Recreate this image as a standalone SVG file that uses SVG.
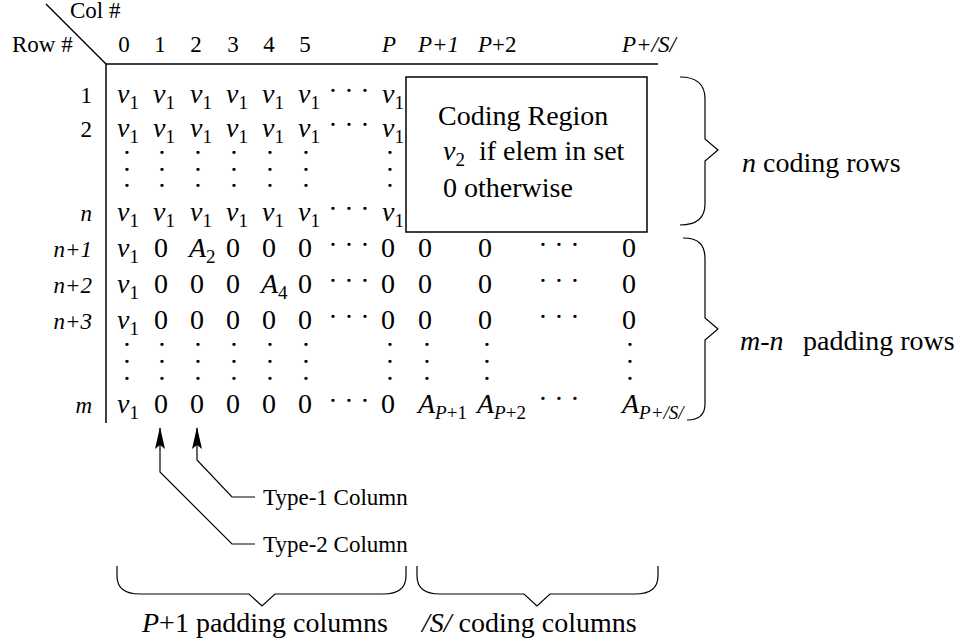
<svg xmlns="http://www.w3.org/2000/svg" width="961" height="642" viewBox="0 0 961 642">
<style>
text{font-family:"Liberation Serif","Times New Roman",serif;fill:#000}
.m{font-size:28px}
.s{font-size:23px}
.i{font-style:italic}
.sub{font-size:19px}
.c{text-anchor:middle}
.ln{stroke:#000;stroke-width:1.5;fill:none}
.br{stroke:#000;stroke-width:1.2;fill:none}
</style>
<defs>
<marker id="arr" viewBox="0 0 22 10" refX="21" refY="5" markerWidth="22" markerHeight="10" markerUnits="userSpaceOnUse" orient="auto">
<path d="M0,0 L22,5 L0,10 L4,5 z" fill="#000"/>
</marker>
</defs>
<rect width="961" height="642" fill="#fff"/>

<g id="axes">
<line class="ln" x1="46" y1="4" x2="106" y2="64"/>
<line class="ln" x1="106" y1="64" x2="658" y2="64"/>
<line class="ln" x1="106" y1="64" x2="106" y2="423"/>
<text class="s" x="70" y="18">Col #</text>
<text class="s" x="12" y="52">Row #</text>
</g>

<g id="col-headers">
<text class="s c" x="124 160 196 233 269 305" y="52">012345</text>
<text class="s c i" x="389" y="52">P</text>
<text class="s i" x="418" y="52">P+1</text>
<text class="s" x="478" y="52"><tspan class="i">P</tspan>+2</text>
<text class="s i" x="622" y="52">P+/S/</text>
</g>

<g id="row-labels">
<text class="s" text-anchor="end" x="92" y="103">1</text>
<text class="s" text-anchor="end" x="92" y="137">2</text>
<text class="s i" text-anchor="end" x="92" y="221">n</text>
<text class="s i" text-anchor="end" x="92" y="257">n+1</text>
<text class="s i" text-anchor="end" x="92" y="293">n+2</text>
<text class="s i" text-anchor="end" x="92" y="329">n+3</text>
<text class="s i" text-anchor="end" x="92" y="413">m</text>
</g>

<g id="matrix">
<g id="row-1">
<text class="m" x="117" y="103"><tspan class="i">v</tspan><tspan class="sub" dy="6">1</tspan></text>
<text class="m" x="153" y="103"><tspan class="i">v</tspan><tspan class="sub" dy="6">1</tspan></text>
<text class="m" x="190" y="103"><tspan class="i">v</tspan><tspan class="sub" dy="6">1</tspan></text>
<text class="m" x="226" y="103"><tspan class="i">v</tspan><tspan class="sub" dy="6">1</tspan></text>
<text class="m" x="262" y="103"><tspan class="i">v</tspan><tspan class="sub" dy="6">1</tspan></text>
<text class="m" x="298" y="103"><tspan class="i">v</tspan><tspan class="sub" dy="6">1</tspan></text>
<text class="m c" x="333 349 365" y="100">···</text>
<text class="m" x="382" y="103"><tspan class="i">v</tspan><tspan class="sub" dy="6">1</tspan></text>
</g>
<g id="row-2">
<text class="m" x="117" y="137"><tspan class="i">v</tspan><tspan class="sub" dy="6">1</tspan></text>
<text class="m" x="153" y="137"><tspan class="i">v</tspan><tspan class="sub" dy="6">1</tspan></text>
<text class="m" x="190" y="137"><tspan class="i">v</tspan><tspan class="sub" dy="6">1</tspan></text>
<text class="m" x="226" y="137"><tspan class="i">v</tspan><tspan class="sub" dy="6">1</tspan></text>
<text class="m" x="262" y="137"><tspan class="i">v</tspan><tspan class="sub" dy="6">1</tspan></text>
<text class="m" x="298" y="137"><tspan class="i">v</tspan><tspan class="sub" dy="6">1</tspan></text>
<text class="m c" x="333 349 365" y="134">···</text>
<text class="m" x="382" y="137"><tspan class="i">v</tspan><tspan class="sub" dy="6">1</tspan></text>
</g>
<g id="vdots-upper">
<text class="m c" x="127 127 127" y="162 179 195">···</text>
<text class="m c" x="162 162 162" y="162 179 195">···</text>
<text class="m c" x="198 198 198" y="162 179 195">···</text>
<text class="m c" x="234 234 234" y="162 179 195">···</text>
<text class="m c" x="270 270 270" y="162 179 195">···</text>
<text class="m c" x="306 306 306" y="162 179 195">···</text>
<text class="m c" x="390 390 390" y="162 179 195">···</text>
</g>
<g id="row-n">
<text class="m" x="117" y="221"><tspan class="i">v</tspan><tspan class="sub" dy="6">1</tspan></text>
<text class="m" x="153" y="221"><tspan class="i">v</tspan><tspan class="sub" dy="6">1</tspan></text>
<text class="m" x="190" y="221"><tspan class="i">v</tspan><tspan class="sub" dy="6">1</tspan></text>
<text class="m" x="226" y="221"><tspan class="i">v</tspan><tspan class="sub" dy="6">1</tspan></text>
<text class="m" x="262" y="221"><tspan class="i">v</tspan><tspan class="sub" dy="6">1</tspan></text>
<text class="m" x="298" y="221"><tspan class="i">v</tspan><tspan class="sub" dy="6">1</tspan></text>
<text class="m c" x="333 349 365" y="218">···</text>
<text class="m" x="382" y="221"><tspan class="i">v</tspan><tspan class="sub" dy="6">1</tspan></text>
</g>
<g id="row-n1">
<text class="m" x="117" y="257"><tspan class="i">v</tspan><tspan class="sub" dy="6">1</tspan></text>
<text class="m c" x="161" y="257">0</text>
<text class="m" x="189" y="257"><tspan class="i">A</tspan><tspan class="sub" dy="6">2</tspan></text>
<text class="m c" x="233 269 305" y="257">000</text>
<text class="m c" x="333 349 365" y="254">···</text>
<text class="m c" x="388 425 485" y="257">000</text>
<text class="m c" x="543 559 575" y="254">···</text>
<text class="m c" x="629" y="257">0</text>
</g>
<g id="row-n2">
<text class="m" x="117" y="293"><tspan class="i">v</tspan><tspan class="sub" dy="6">1</tspan></text>
<text class="m c" x="161 197 233" y="293">000</text>
<text class="m" x="261" y="293"><tspan class="i">A</tspan><tspan class="sub" dy="6">4</tspan></text>
<text class="m c" x="305" y="293">0</text>
<text class="m c" x="333 349 365" y="290">···</text>
<text class="m c" x="388 425 485" y="293">000</text>
<text class="m c" x="543 559 575" y="290">···</text>
<text class="m c" x="629" y="293">0</text>
</g>
<g id="row-n3">
<text class="m" x="117" y="329"><tspan class="i">v</tspan><tspan class="sub" dy="6">1</tspan></text>
<text class="m c" x="161 197 233 269 305" y="329">00000</text>
<text class="m c" x="333 349 365" y="326">···</text>
<text class="m c" x="388 425 485" y="329">000</text>
<text class="m c" x="543 559 575" y="326">···</text>
<text class="m c" x="629" y="329">0</text>
</g>
<g id="vdots-lower">
<text class="m c" x="127 127 127" y="354 371 388">···</text>
<text class="m c" x="162 162 162" y="354 371 388">···</text>
<text class="m c" x="198 198 198" y="354 371 388">···</text>
<text class="m c" x="234 234 234" y="354 371 388">···</text>
<text class="m c" x="270 270 270" y="354 371 388">···</text>
<text class="m c" x="306 306 306" y="354 371 388">···</text>
<text class="m c" x="390 390 390" y="354 371 388">···</text>
<text class="m c" x="427 427 427" y="354 371 388">···</text>
<text class="m c" x="487 487 487" y="354 371 388">···</text>
<text class="m c" x="630 630 630" y="354 371 388">···</text>
</g>
<g id="row-m">
<text class="m" x="117" y="413"><tspan class="i">v</tspan><tspan class="sub" dy="6">1</tspan></text>
<text class="m c" x="161 197 233 269 305" y="413">00000</text>
<text class="m c" x="333 349 365" y="410">···</text>
<text class="m c" x="388" y="413">0</text>
<text class="m" x="418" y="413"><tspan class="i">A</tspan><tspan class="sub" dy="6"><tspan class="i">P</tspan>+1</tspan></text>
<text class="m" x="477" y="413"><tspan class="i">A</tspan><tspan class="sub" dy="6"><tspan class="i">P</tspan>+2</tspan></text>
<text class="m c" x="543 559 575" y="408">···</text>
<text class="m" x="622" y="413"><tspan class="i">A</tspan><tspan class="sub i" dy="6">P+/S/</tspan></text>
</g>
</g>

<g id="coding-region">
<rect class="ln" x="406" y="77" width="241" height="155" fill="#fff"/>
<text class="m" x="438" y="125">Coding Region</text>
<text class="m" x="443" y="160"><tspan class="i">v</tspan><tspan class="sub" dy="6">2</tspan></text>
<text class="m" x="479" y="160">if elem in set</text>
<text class="m" x="443" y="197">0 otherwise</text>
</g>

<g id="braces">
<path id="brace-n" class="br" d="M680,77 C697,77 705,84 705,99 L705,139 L718,150 L705,161 L705,204 C705,218 697,225 680,225"/>
<path id="brace-mn" class="br" d="M683,238 C699,238 705,245 705,259 L705,318 L718,329 L705,340 L705,404 C705,415 699,420 687,420"/>
<path id="brace-p1" class="br" d="M117,566 L117,576 C117,588 124,594 140,594 L249,594 L262,606 L275,594 L383,594 C399,594 406,588 406,576 L406,566"/>
<path id="brace-s" class="br" d="M417,566 L417,576 C417,588 424,594 440,594 L524,594 L537,606 L550,594 L635,594 C651,594 658,588 658,576 L658,566"/>
</g>

<g id="brace-labels">
<text class="m" x="742" y="172"><tspan class="i">n</tspan> coding rows</text>
<text class="m" x="740" y="350"><tspan class="i">m-n</tspan><tspan x="803">padding rows</tspan></text>
<text class="m" x="142" y="632"><tspan class="i">P</tspan>+1 padding columns</text>
<text class="m" x="422" y="632"><tspan class="i">/S/</tspan> coding columns</text>
</g>

<g id="connectors">
<path class="br" d="M255,544 L232,544 L160,472 L160,428" marker-end="url(#arr)"/>
<path class="br" d="M255,497 L232,497 L197,460 L197,428" marker-end="url(#arr)"/>
</g>

<g id="type-labels">
<text class="s" x="263" y="505">Type-1 Column</text>
<text class="s" x="263" y="552">Type-2 Column</text>
</g>
</svg>
